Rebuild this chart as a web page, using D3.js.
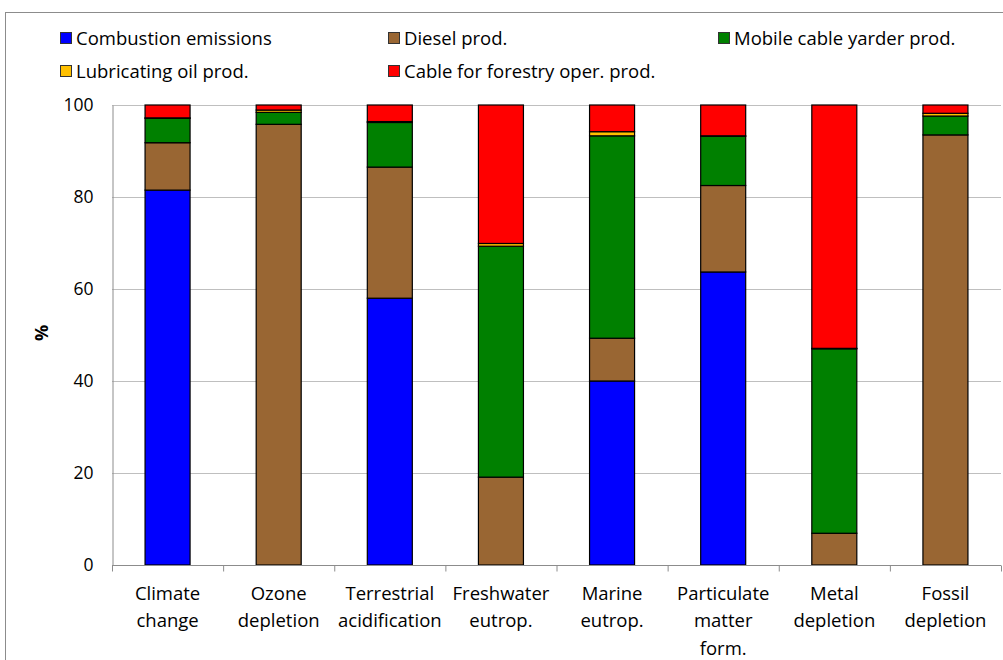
<!DOCTYPE html>
<html><head><meta charset="utf-8">
<script src="https://cdn.jsdelivr.net/npm/d3@7"></script>
<style>body{margin:0;background:#fff}svg{display:block}</style>
</head><body>
<svg id="c" width="1003" height="660"></svg>
<script>
const categories = [["Climate","change"],["Ozone","depletion"],["Terrestrial","acidification"],["Freshwater","eutrop."],["Marine","eutrop."],["Particulate","matter","form."],["Metal","depletion"],["Fossil","depletion"]];
const seriesNames = ["Combustion emissions","Diesel prod.","Mobile cable yarder prod.","Lubricating oil prod.","Cable for forestry oper. prod."];
const combustion = [81.5, 0, 58.0, 0, 40.0, 63.7, 0, 0];
const diesel     = [10.3, 95.8, 28.5, 19.1, 9.3, 18.8, 6.9, 93.5];
const yarder     = [5.3, 2.6, 9.7, 50.2, 44.0, 10.7, 40.1, 4.1];
const lubricant  = [0.1, 0.5, 0.2, 0.6, 0.9, 0.1, 0.1, 0.6];
const cable      = [2.8, 1.1, 3.6, 30.1, 5.8, 6.7, 52.9, 1.8];
const yTicks = [0, 20, 40, 60, 80, 100];
const colors = ["#0000FF","#996633","#008000","#FFC000","#FF0000"];

const series = [combustion, diesel, yarder, lubricant, cable];
const svg = d3.select("#c");
const font = "'Open Sans', sans-serif";
const m = {left:112, right:1001, top:105, bottom:565};

svg.append("rect").attr("x",5.5).attr("y",12.5).attr("width",1100).attr("height",700)
  .attr("fill","none").attr("stroke","#8c8c8c");

const x = d3.scaleBand().domain(d3.range(categories.length)).range([m.left, m.right]).paddingInner(0.595).paddingOuter(0.2975);
const xOuter = d3.scaleBand().domain(d3.range(categories.length)).range([m.left, m.right]);
const y = d3.scaleLinear().domain([0,100]).range([m.bottom, m.top]);

// grid
svg.append("g").selectAll("line").data(yTicks.filter(d=>d>0)).join("line")
  .attr("x1",m.left).attr("x2",m.right).attr("y1",d=>y(d)+0.5).attr("y2",d=>y(d)+0.5)
  .attr("stroke","#bfbfbf").attr("stroke-width",1);

// y axis
const ya = svg.append("g").attr("transform",`translate(${m.left+0.5},0)`)
  .call(d3.axisLeft(y).tickValues(yTicks).tickSize(0).tickPadding(19));
ya.select(".domain").attr("stroke","#8c8c8c");
ya.selectAll("text").attr("font-family",font).attr("font-size",17.5).attr("fill","#000");

// bars
const stackData = categories.map((c,i)=>{const o={i}; series.forEach((s,k)=>o["s"+k]=s[i]); return o;});
const stack = d3.stack().keys(series.map((s,k)=>"s"+k))(stackData);
svg.append("g").selectAll("g").data(stack).join("g").attr("fill",(d,k)=>colors[k])
  .selectAll("rect").data(d=>d.filter(p=>p[1]-p[0]>0)).join("rect")
  .attr("x",d=>x(d.data.i)).attr("width",x.bandwidth())
  .attr("y",d=>y(d[1])).attr("height",d=>y(d[0])-y(d[1]))
  .attr("stroke","#000").attr("stroke-width",1.2);

// x axis
const xa = svg.append("g").attr("transform",`translate(0,${m.bottom+0.5})`);
xa.append("line").attr("x1",m.left).attr("x2",m.right).attr("stroke","#8c8c8c");
xa.selectAll(".tk").data(d3.range(categories.length+1)).join("line")
  .attr("x1",d=>m.left+d*xOuter.step()+0.5).attr("x2",d=>m.left+d*xOuter.step()+0.5)
  .attr("y1",0).attr("y2",6).attr("stroke","#8c8c8c");
xa.selectAll(".lbl").data(categories).join("text")
  .attr("text-anchor","middle").attr("font-family",font).attr("font-size",18.5)
  .attr("transform",(d,i)=>`translate(${xOuter(i)+xOuter.bandwidth()/2},0)`)
  .selectAll("tspan").data(d=>d).join("tspan").attr("x",0).attr("y",(d,j)=>34+j*27.5).text(d=>d);

// y label
svg.append("text").attr("transform","translate(48,333) rotate(-90)").attr("text-anchor","middle")
  .attr("font-family",font).attr("font-size",18).attr("font-weight","bold").text("%");

// legend
const legPos = [[60,38],[388,38],[718,38],[60,71],[388,71]];
const lg = svg.append("g").selectAll("g").data(seriesNames).join("g")
  .attr("transform",(d,i)=>`translate(${legPos[i][0]},${legPos[i][1]})`);
lg.append("rect").attr("x",0.5).attr("y",-5.5).attr("width",11).attr("height",11)
  .attr("fill",(d,i)=>colors[i]).attr("stroke","#333").attr("stroke-width",1);
lg.append("text").attr("x",16).attr("y",6.5).attr("font-family",font).attr("font-size",18.5).text(d=>d);
</script>
</body></html>
